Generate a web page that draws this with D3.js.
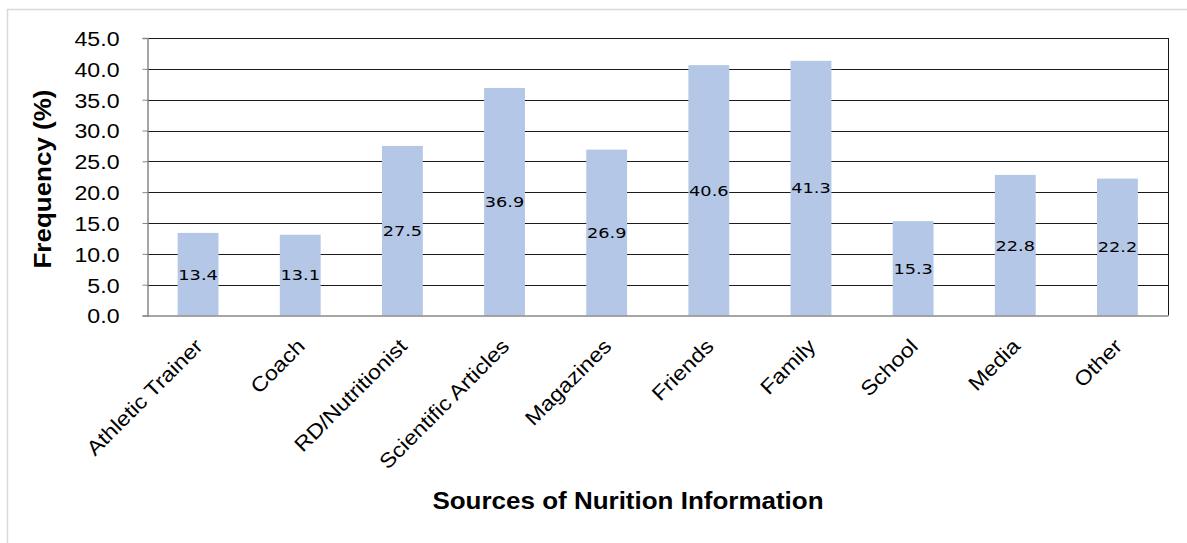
<!DOCTYPE html>
<html><head><meta charset="utf-8">
<script src="https://cdn.jsdelivr.net/npm/d3@7"></script>
<style>html,body{margin:0;padding:0;background:#fff;}svg{display:block;}</style>
</head><body>
<svg id="chart" width="1187" height="543"></svg>
<script>
const categories = ["Athletic Trainer","Coach","RD/Nutritionist","Scientific Articles","Magazines","Friends","Family","School","Media","Other"];
const values = [13.4,13.1,27.5,36.9,26.9,40.6,41.3,15.3,22.8,22.2];
const yTicks = [0,5,10,15,20,25,30,35,40,45];
const yTitle = "Frequency (%)";
const xTitle = "Sources of Nurition Information";

const svg = d3.select("#chart");
const W = 1187, H = 543;
const m = {left:147, right:1168.5, top:38, bottom:315.5};
const SX = 1.13;

svg.append("rect").attr("x",7.5).attr("y",9.5).attr("width",W).attr("height",H)
  .attr("fill","#fff").attr("stroke","#d9d9d9").attr("stroke-width",1.5);

const x = d3.scaleBand().domain(categories).range([m.left, m.right]).paddingInner(0.6).paddingOuter(0.3);
const y = d3.scaleLinear().domain([0,45]).range([m.bottom, m.top]);

// gridlines
svg.append("g").selectAll("line").data(yTicks.filter(d=>d>0)).join("line")
  .attr("x1",m.left).attr("x2",m.right)
  .attr("y1",d=>Math.round(y(d))+0.5).attr("y2",d=>Math.round(y(d))+0.5)
  .attr("stroke","#1a1a1a").attr("stroke-width",1);
// right border
svg.append("line").attr("x1",m.right).attr("x2",m.right).attr("y1",m.top).attr("y2",m.bottom)
  .attr("stroke","#1a1a1a").attr("stroke-width",1);

// bars
svg.append("g").selectAll("rect").data(values).join("rect")
  .attr("x",(d,i)=>x(categories[i])).attr("width",x.bandwidth())
  .attr("y",d=>y(d)).attr("height",d=>y(0)-y(d))
  .attr("fill","#b4c7e7");

// y axis
const yAxis = d3.axisLeft(y).tickValues(yTicks).tickFormat(d3.format(".1f")).tickSize(5).tickPadding(18);
const gy = svg.append("g").attr("transform",`translate(${m.left+0.5},0)`).call(yAxis);
gy.select(".domain").attr("stroke","#888").attr("stroke-width",1.5);
gy.selectAll(".tick line").attr("stroke","#888");
gy.selectAll(".tick text").attr("font-family","Liberation Sans, Arial, sans-serif")
  .attr("font-size",20.5).attr("fill","#000")
  .attr("transform",`translate(-5,0) scale(${SX},1)`).attr("dy","0.36em")
  .attr("x", -23/SX + 0);

// x axis baseline
svg.append("line").attr("x1",m.left).attr("x2",m.right).attr("y1",m.bottom+0.5).attr("y2",m.bottom+0.5)
  .attr("stroke","#888").attr("stroke-width",1.5);

// bar value labels
svg.append("g").selectAll("text").data(values).join("text")
  .attr("transform",(d,i)=>`translate(${x(categories[i])+x.bandwidth()/2},${(y(d)+y(0))/2}) scale(1.2,1)`)
  .attr("text-anchor","middle").attr("dy","0.36em")
  .attr("font-family","DejaVu Sans, sans-serif").attr("font-size",14.8).attr("fill","#000")
  .text(d=>d.toFixed(1));

// x category labels
svg.append("g").selectAll("text").data(categories).join("text")
  .attr("transform",d=>`translate(${x(d)+x.bandwidth()/2+6},${m.bottom+32}) rotate(-45) scale(${SX},1)`)
  .attr("text-anchor","end")
  .attr("font-family","Liberation Sans, Arial, sans-serif").attr("font-size",20.5).attr("fill","#000")
  .text(d=>d);

// axis titles
svg.append("text").attr("transform",`translate(51,179) rotate(-90) scale(${SX},1)`)
  .attr("text-anchor","middle").attr("font-family","Liberation Sans, Arial, sans-serif")
  .attr("font-weight","bold").attr("font-size",23).attr("fill","#000").text(yTitle);
svg.append("text").attr("transform",`translate(628,509) scale(${SX},1)`)
  .attr("text-anchor","middle").attr("font-family","Liberation Sans, Arial, sans-serif")
  .attr("font-weight","bold").attr("font-size",23).attr("fill","#000").text(xTitle);
</script>
</body></html>
